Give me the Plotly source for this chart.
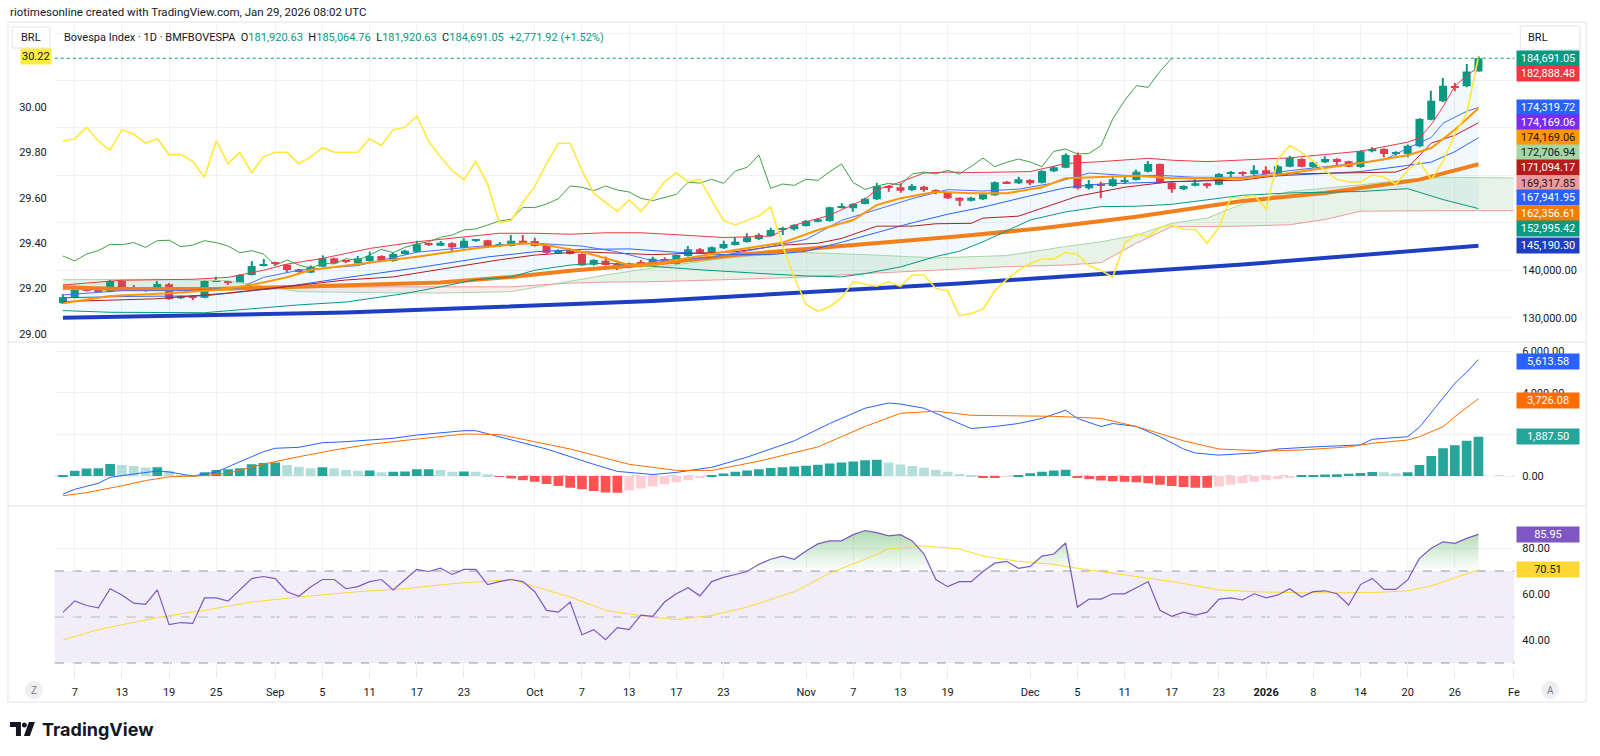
import pandas as pd
import plotly.graph_objects as go

W, H = 1600, 756

# ---------------- data ----------------
holidays = ["2025-11-20", "2025-12-24", "2025-12-25", "2025-12-31", "2026-01-01"]
dates = [d for d in pd.bdate_range("2025-08-06", "2026-01-28") if d.strftime("%Y-%m-%d") not in holidays]
future = list(pd.bdate_range("2026-01-29", "2026-02-02"))

open_ = [133030,134220,136330,135840,135490,137730,136330,136190,135840,137030,
134080,134500,134220,137700,137730,137380,139000,140900,141600,141180,
140200,139490,140760,142510,141950,141460,141950,143000,141950,143430,
143920,145500,145180,145680,144760,146240,146310,145200,145100,146240,
146170,145320,143710,144270,143430,141180,142020,141460,140550,141450,
141320,142230,141320,143000,144410,143850,144620,145320,145960,146590,
147220,148600,148630,149330,150240,150380,153150,153050,153970,154950,
157690,157480,156920,157620,156920,156430,155300,154670,154950,155800,
158670,158320,159030,158460,160850,161630,164300,157270,158040,157760,
158800,159030,160780,162400,158460,157060,157830,158320,158040,160360,
160710,160290,161060,160290,161840,163450,161770,162750,163450,162960,
161770,165070,165560,164550,164500,166120,171740,175610,178700,178770,
181920.63]
high = [134990,136750,136600,136000,138090,137900,136890,136330,137730,137300,
134700,134710,137940,138650,137800,139200,141950,142370,141810,141300,
140300,141000,143150,142650,142100,143000,143920,143150,143700,144300,
146240,145820,146170,145900,146730,146520,146450,145960,147430,147430,
146870,145460,144400,144620,143600,142300,142870,141600,141600,142160,
142860,142720,143300,145110,144700,145000,146240,146940,147780,147780,
148980,149190,149700,150600,151000,153400,154100,154100,155300,158460,
157900,158320,158180,157800,157100,156500,155400,155500,156200,158700,
158800,159730,159200,161100,162000,164650,164800,159030,158670,159700,
159870,161200,163030,162500,158600,157900,159170,158450,160500,160900,
160850,162120,161900,162200,164150,163600,162900,164010,163600,163100,
165300,165910,165700,165070,166500,172100,177860,180530,179470,183480,
185064.76]
low = [132900,134080,135500,135350,135350,136200,135630,135490,135700,133800,
133950,133730,134100,137600,136890,137300,138900,140800,140900,139490,
139500,139400,140700,141300,141500,141300,141800,141800,141800,143300,
143800,145110,145100,144060,144600,146100,144800,144970,145000,145670,
145000,143500,143570,143300,140900,141000,141000,140050,140400,140600,
140970,141460,141100,142900,143600,143700,144500,145200,145800,146400,
147100,147430,148400,149200,150100,150200,153000,152350,153900,154800,
156570,156350,156700,156570,156000,155000,153550,154500,154800,155700,
158250,158200,157970,158300,160700,161500,157000,157000,155160,157600,
158180,158900,160600,158300,156350,156900,157700,157270,157900,159450,
159800,160150,160150,160100,161700,161700,161600,162600,162120,161700,
161600,164900,163800,164150,163800,165950,171600,175400,177720,178600,
181920.63]
close = [134290,136190,135630,135490,137730,136330,136050,136050,137100,133940,
134570,134350,137730,137800,137450,139000,140900,141250,141320,140050,
139630,140760,142510,141460,141800,142510,143000,141950,143430,144130,
145460,145400,145820,144830,146240,146330,144970,145300,146240,145820,
145100,143710,144130,143430,141040,142160,141110,140400,141460,141350,
142440,142090,143220,144410,143710,144830,145530,146020,146940,147430,
148490,148700,149540,150380,150740,153260,153200,153970,155090,157760,
157500,156780,157760,156920,156500,155160,154670,155300,156000,158530,
158390,159170,158320,160920,161700,164300,157270,158180,157900,159170,
158950,160780,162400,158460,157060,157760,158320,157970,160290,160710,
160290,161060,160290,161900,163660,161840,162750,163450,162820,161840,
165070,165560,164500,164650,166260,171880,175750,178910,178560,181919.13,
184691.05]

# Bollinger bands
bb_up_x = [0,5,11,14,17,19,22,24,26,30,34,37,40,43,46,49,52,56,60,62,65,68,69,71,73,75,77,82,85,88,92,94,97,100,104,110,114,115,116,117,118,119,120]
bb_up = [136900,137900,138100,138500,140000,141300,142500,143600,144600,146000,147100,147800,147800,147600,147900,147900,147500,146900,147200,149500,151600,155000,157000,158600,160500,160700,160600,160800,162500,162900,163600,163200,162900,163300,163700,165100,167000,167900,170700,174500,178800,181000,182888.48]
bb_mid_x = [0,6,12,18,24,30,36,40,44,48,52,56,60,63,66,69,72,75,78,82,85,88,92,96,100,104,110,114,116,118,120]
bb_mid = [134200,134500,134600,136200,138450,140500,142800,143900,144400,144500,143800,143300,143300,144000,145900,148000,150000,151800,153300,155700,157400,158200,158500,158800,159500,160000,160800,162100,162800,165000,167941.95]
bb_lo_x = [0,4,12,17,20,24,29,32,35,38,40,43,46,49,54,60,63,66,68,71,74,76,78,82,85,88,91,94,97,100,104,110,114,117,120]
bb_lo = [131500,131140,131050,132000,132700,133300,135100,136500,138000,138600,140000,141100,141500,141000,140100,139200,138800,138600,139300,140700,142900,144000,146000,150600,152300,153400,153500,153900,154800,155800,156300,156600,157200,154900,152995.42]

# Ichimoku
tk_x = [0,5,10,15,17,20,25,30,35,40,44,47,50,55,60,63,66,69,72,75,78,81,84,87,90,93,96,100,104,108,112,115,116,117,118,119,120]
tenkan = [134800,135700,135700,136300,138500,140000,141000,143800,145000,145700,145100,143900,142000,142700,145000,146500,150500,152800,155100,157000,156700,157100,158400,160500,160000,160000,159600,159600,161000,162100,163300,166900,168000,171000,172300,173500,174319.72]
kj_x = [0,8,14,18,24,28,32,37,40,44,50,57,61,64,66,69,72,74,77,78,81,83,86,90,94,100,104,113,114,116,118,120]
kijun = [133400,134000,135200,136300,137950,138600,140200,142200,143200,143900,143300,143900,145300,145700,146700,149300,149300,149800,149900,151000,151400,153100,155600,157500,158700,159000,160300,160700,161600,166800,168450,171094.17]
cl_x = [0,8,14,17,20,26,32,38,41,43,46,50,56,62,68,74,80,85,88,91,94,97,100,104,107,110,114,117,123]
lead_a = [138000,138100,137800,136600,135500,135300,135200,135500,136800,137800,139000,140500,142500,143800,143300,142600,143100,145000,146000,147400,149900,151000,154000,156600,157300,158000,159100,159600,159450]
lead_b = [135900,135900,136000,136200,136300,136500,136500,136500,137000,137300,137500,137600,138000,138500,139300,140100,140750,141100,141600,145700,149200,149200,149300,149600,150700,152450,152560,152560,152560]
lead_a_last, lead_b_last = 172706.94, 169317.85
purple_last = 174169.06
chikou_shift = 26

# Moving averages
em_x = [0,4,9,13,16,19,21,24,30,35,39,41,44,46,48,50,52,57,61,64,67,69,71,74,77,80,83,85,88,91,94,97,100,103,107,111,114,116,118,120]
ema = [133040,134570,135140,135840,136890,138520,140060,141000,142860,144630,145680,145330,143910,142520,141110,141000,142160,144270,145810,148490,150600,153760,155170,156560,156220,156220,157490,159390,159720,159930,159390,159390,159390,160150,161560,162970,164230,165770,169630,174169.06]
s50_x = [0,5,13,19,24,32,38,43,50,57,66,76,83,91,100,107,115,120]
sma50 = [136400,136050,136050,136500,136700,137400,138600,139900,141300,143200,145100,147150,148850,151300,154600,156300,159100,162356.61]
s200_x = [0,24,50,76,100,120]
sma200 = [130000,131100,133500,137200,141200,145190.30]

# Overlay symbol (left scale)
yellow = [29.85,29.86,29.91,29.85,29.81,29.90,29.88,29.84,29.86,29.79,29.79,29.76,29.69,29.85,29.75,29.80,29.71,29.78,29.80,29.80,29.75,
29.78,29.82,29.80,29.80,29.80,29.86,29.83,29.90,29.91,29.96,29.85,29.78,
29.72,29.68,29.76,29.66,29.49,29.50,29.58,29.65,29.75,29.84,29.84,29.72,29.62,29.58,29.54,29.59,29.54,
29.60,29.67,29.71,29.67,29.68,29.59,29.50,29.48,29.50,29.52,29.56,29.39,29.25,29.13,29.10,29.12,29.16,29.23,29.22,29.21,29.23,29.21,29.26,29.26,29.20,29.19,
29.08,29.09,29.11,29.19,29.24,29.28,29.31,29.33,29.33,29.36,29.35,29.30,29.28,29.25,29.40,29.44,29.43,29.47,29.48,29.46,29.46,29.40,29.47,29.60,29.60,
29.61,29.55,29.77,29.83,29.80,29.76,29.72,29.68,29.67,29.67,29.70,29.69,29.66,29.72,29.76,29.68,29.76,29.88,29.97,30.22]

# MACD
macd_x = [0,1,3,4,6,8,9,11,13,14,16,17,18,20,22,24,26,28,30,32,34,35,37,41,45,47,50,52,55,58,62,65,68,70,71,73,75,77,79,81,83,85,86,88,89,91,93,95,96,98,101,103,106,108,110,111,114,115,117,118,119,120]
macd = [-870,-641,-352,-63,96,240,193,0,193,448,930,1171,1335,1383,1605,1653,1735,1817,1976,2087,2183,2183,1900,1301,564,222,72,173,419,910,1696,2530,3268,3517,3468,3268,2776,2286,2385,2530,2776,3171,2776,2385,2530,2385,1894,1301,1108,1007,1108,1301,1402,1450,1499,1768,1894,2347,3745,4467,5000,5613.58]
sig_x = [0,2,5,7,9,12,14,17,20,23,26,28,31,34,37,43,48,52,55,59,64,68,71,74,77,81,84,88,91,95,98,102,105,109,111,114,115,117,118,120]
signal = [-950,-800,-470,-220,-40,20,130,578,930,1253,1530,1653,1865,2024,2000,1301,564,270,270,713,1402,2385,3022,3123,2925,2877,2877,2776,2385,1696,1301,1205,1253,1402,1576,1735,1894,2376,2858,3726.08]
hist = [48,257,360,375,578,530,482,410,420,257,48,10,177,289,321,370,562,630,650,530,450,370,418,370,289,257,260,177,209,215,321,325,289,209,215,209,80,-48,
-120,-200,-280,-380,-480,-560,-640,-720,-790,-810,-700,-600,-500,-400,-300,-200,-100,
30,120,200,260,320,380,420,460,500,540,600,650,700,760,780,
650,560,480,400,300,200,100,20,-60,-90,-40,
40,130,200,260,300,-60,-150,-220,-250,-280,-300,-350,-420,-480,-530,-560,-570,-500,-420,-350,-280,-210,-140,-70,
20,50,70,90,110,140,190,178,130,178,530,964,1335,1479,1701,1887.50]

# RSI
rsi = [52.0,57.0,55.0,54.0,62.3,59.6,56.0,55.5,61.8,46.7,47.6,47.2,58.3,58.3,56.9,62.0,66.7,67.6,66.7,61.0,59.0,63.0,66.3,66.3,62.3,63.2,65.4,66.3,61.8,66.3,
70.7,69.8,71.2,68.5,70.7,70.7,64.1,65.4,66.3,65.4,61.0,52.9,52.1,56.5,42.3,44.5,40.1,45.4,44.5,50.8,
50.3,56.5,60.1,62.7,59.2,65.4,67.2,68.5,69.8,72.9,75.1,76.5,75.1,78.7,81.8,83.1,83.1,85.8,87.6,86.7,
85.3,85.8,83.1,77.4,66.3,63.2,65.4,65.4,69.8,73.4,74.2,71.2,72.0,76.5,77.4,82.2,54.3,57.8,57.8,60.1,
60.1,62.7,65.4,52.9,50.3,52.1,50.8,52.1,57.8,58.3,57.4,60.1,58.3,59.6,62.3,58.7,61.0,61.4,60.1,55.2,
64.1,66.8,62.0,62.0,66.1,75.5,79.9,82.7,82.0,84.2,85.95]
rma_x = [0,3,8,12,16,20,25,29,33,38,40,43,46,50,52,55,58,62,65,68,70,73,76,78,81,84,86,89,94,98,101,105,111,114,116,118,120]
rsi_ma = [40.0,44.5,49.8,52.9,56.5,58.7,61.0,62.3,64.5,66.3,63.2,58.7,52.9,49.8,48.9,50.7,54.3,61.0,69.0,75.1,79.6,80.9,79.6,76.5,74.2,72.9,71.2,69.0,65.4,61.8,61.0,60.5,60.6,61.4,63.5,67.0,70.51]

tick_dates = ["2025-08-07","2025-08-13","2025-08-19","2025-08-25","2025-09-01","2025-09-05","2025-09-11","2025-09-17","2025-09-23",
              "2025-10-01","2025-10-07","2025-10-13","2025-10-17","2025-10-23","2025-11-03","2025-11-07","2025-11-13","2025-11-19",
              "2025-12-01","2025-12-05","2025-12-11","2025-12-17","2025-12-23","2026-01-02","2026-01-08","2026-01-14","2026-01-20","2026-01-26"]
tick_labels = ["7","13","19","25","Sep","5","11","17","23","Oct","7","13","17","23","Nov","7","13","19",
               "Dec","5","11","17","23","<b>2026</b>","8","14","20","26"]

# ---------------- helpers / styles ----------------
n = len(dates)
xi = list(range(n))
dstr = [d.strftime("%Y-%m-%d") for d in dates]
tickv = [dstr.index(t) for t in tick_dates] + [n + len(future) - 1]
tickt = tick_labels + ["Fe"]

UP, DN = "#089981", "#F23645"
GRID = "#F0F2F6"
FONT = "Roboto, Liberation Sans, Arial, sans-serif"
XD = [55 / W, 1520 / W]
XR = [-0.69, 123.04]


def py(px):
    return 1 - px / H


def px_x(px):
    return px / W


fig = go.Figure()

# Ichimoku cloud polygons (green where A >= B, red otherwise)
sign = [a >= b for a, b in zip(lead_a, lead_b)]
start = 0
for k in range(1, len(cl_x) + 1):
    if k == len(cl_x) or sign[k] != sign[start]:
        end = min(k, len(cl_x) - 1)
        idx = list(range(start, end + 1))
        xs = [cl_x[j] for j in idx] + [cl_x[j] for j in reversed(idx)]
        ys = [lead_a[j] for j in idx] + [lead_b[j] for j in reversed(idx)]
        col = "rgba(67,160,71,0.13)" if sign[start] else "rgba(244,67,54,0.10)"
        fig.add_trace(go.Scatter(x=xs, y=ys, fill="toself", fillcolor=col, mode="lines",
                                 line=dict(width=0), hoverinfo="skip"))
        start = k

# Bollinger fill
fig.add_trace(go.Scatter(x=bb_lo_x, y=bb_lo, mode="lines", line=dict(width=0), hoverinfo="skip"))
fig.add_trace(go.Scatter(x=bb_up_x, y=bb_up, mode="lines", line=dict(width=0), fill="tonexty",
                         fillcolor="rgba(33,150,243,0.06)", hoverinfo="skip"))


def line(x, y, color, width=1, **kw):
    fig.add_trace(go.Scatter(x=x, y=y, mode="lines", line=dict(color=color, width=width), hoverinfo="skip", **kw))


line(cl_x, lead_a, "#A5D6A7")
line(cl_x, lead_b, "#EF9A9A")
line(s200_x, sma200, "#1E3FC2", 4)
line(s50_x, sma50, "#F07F1C", 4)
line(bb_lo_x, bb_lo, "#089981", 1)
line(bb_mid_x, bb_mid, "#2962FF", 1)
line(bb_up_x, bb_up, "#F23645", 1)
line(kj_x, kijun, "#B71C1C", 1)
line(tk_x, tenkan, "#4C6FFF", 1)
line(xi[:n - chikou_shift], close[chikou_shift:], "#43A047", 1)
line(em_x, ema, "#FF9800", 2)

# candles: wicks and bodies as bars on the price scale
ccol = [UP if c >= o else DN for o, c in zip(open_, close)]
fig.add_trace(go.Bar(x=xi, y=[h - l for h, l in zip(high, low)], base=low, width=0.1,
                     marker=dict(color=ccol, line=dict(width=0)), hoverinfo="skip"))
fig.add_trace(go.Bar(x=xi, y=[max(abs(c - o), 220) for o, c in zip(open_, close)],
                     base=[min(o, c) for o, c in zip(open_, close)], width=0.68,
                     marker=dict(color=ccol, line=dict(width=0)), hoverinfo="skip"))

line(xi, yellow, "#FFE83B", 1.6, yaxis="y2")

# MACD pane
hcol = []
for k, v in enumerate(hist):
    prev = hist[k - 1] if k > 0 else v
    if v >= 0:
        hcol.append("#26A69A" if v >= prev else "#B2DFDB")
    else:
        hcol.append("#FF5252" if v < prev else "#FFCDD2")
fig.add_trace(go.Bar(x=xi, y=hist, marker=dict(color=hcol, line=dict(width=0)), width=0.82,
                     xaxis="x2", yaxis="y3", hoverinfo="skip"))
line(macd_x, macd, "#2962FF", 1, xaxis="x2", yaxis="y3")
line(sig_x, signal, "#FF6D00", 1, xaxis="x2", yaxis="y3")

# RSI pane
fig.add_trace(go.Scatter(x=xi, y=[70] * n, mode="lines", line=dict(width=0), xaxis="x3", yaxis="y4", hoverinfo="skip"))
fig.add_trace(go.Scatter(x=xi, y=[max(v, 70) for v in rsi], mode="lines", line=dict(width=0), fill="tonexty",
                         fillgradient=dict(type="vertical", colorscale=[[0, "rgba(76,175,80,0.0)"], [1, "rgba(76,175,80,0.45)"]]),
                         xaxis="x3", yaxis="y4", hoverinfo="skip"))
line(rma_x, rsi_ma, "#FDD835", 1, xaxis="x3", yaxis="y4")
line(xi, rsi, "#7E57C2", 1.2, xaxis="x3", yaxis="y4")

# ---------------- layout ----------------
axfont = dict(family=FONT, size=11, color="#131722")
price_ticks = [130000, 140000, 150000, 160000, 170000, 180000, 190000]
price_text = ["130,000.00", "140,000.00", "", "", "", "", ""]

fig.update_layout(
    width=W, height=H, margin=dict(l=0, r=0, t=0, b=0),
    paper_bgcolor="white", plot_bgcolor="white", showlegend=False, barmode="overlay",
    font=dict(family=FONT, size=11, color="#131722"),
    xaxis=dict(domain=XD, anchor="y", range=XR, tickvals=tickv, showticklabels=False, showgrid=True,
               gridcolor=GRID, zeroline=False, fixedrange=True),
    xaxis2=dict(domain=XD, anchor="y3", matches="x", range=XR, tickvals=tickv, showticklabels=False,
                showgrid=True, gridcolor=GRID, zeroline=False),
    xaxis3=dict(domain=XD, anchor="y4", matches="x", range=XR, tickvals=tickv, ticktext=tickt, showgrid=True,
                gridcolor=GRID, zeroline=False, ticks="outside", ticklen=9, tickcolor="#E6E8EE",
                ticklabelstandoff=5, tickfont=axfont),
    yaxis=dict(domain=[py(341), py(22)], anchor="x", range=[125088, 192333], side="right",
               tickvals=price_ticks, ticktext=price_text, showgrid=True, gridcolor=GRID, zeroline=False,
               ticklabelstandoff=7, tickfont=axfont),
    yaxis2=dict(overlaying="y", anchor="x", side="left", range=[28.969, 30.374],
                tickvals=[29.0, 29.2, 29.4, 29.6, 29.8, 30.0], tickformat=".2f", showgrid=False,
                zeroline=False, ticklabelstandoff=7, tickfont=axfont),
    yaxis3=dict(domain=[py(505), py(343)], anchor="x2", side="right", range=[-1397, 6409],
                tickvals=[0, 2000, 4000, 6000], ticktext=["0.00", "", "4,000.00", "6,000.00"], showgrid=True,
                gridcolor=GRID, zeroline=False, ticklabelstandoff=7, tickfont=axfont),
    yaxis4=dict(domain=[py(668), py(507)], anchor="x3", side="right", range=[27.83, 97.83],
                tickvals=[40, 60, 80], tickformat=".2f", showgrid=True, gridcolor=GRID,
                zeroline=False, ticklabelstandoff=7, tickfont=axfont),
)

shapes = []
# frame and pane separators
shapes.append(dict(type="rect", xref="paper", yref="paper", x0=px_x(8), x1=px_x(1592), y0=py(702), y1=py(22),
                   line=dict(color="#E0E3EB", width=1), fillcolor="rgba(0,0,0,0)", layer="above"))
for yy in (342, 506):
    shapes.append(dict(type="line", xref="paper", yref="paper", x0=px_x(8), x1=px_x(1592), y0=py(yy), y1=py(yy),
                       line=dict(color="#E0E3EB", width=1)))
# RSI band
shapes.append(dict(type="rect", xref="x3 domain", yref="y4", x0=0, x1=1, y0=30, y1=70,
                   fillcolor="rgba(126,87,194,0.10)", line=dict(width=0), layer="below"))
for lvl in (70, 50, 30):
    shapes.append(dict(type="line", xref="x3 domain", yref="y4", x0=0, x1=1, y0=lvl, y1=lvl,
                       line=dict(color="#9598A1" if lvl != 50 else "#B2B5BE", width=1, dash="dash"), layer="below"))
# MACD zero line
shapes.append(dict(type="line", xref="x2 domain", yref="y3", x0=0, x1=1, y0=0, y1=0,
                   line=dict(color="#B2B5BE", width=1, dash="dash"), layer="below"))
# last price dotted line
shapes.append(dict(type="line", xref="x domain", yref="y", x0=0, x1=1, y0=close[-1], y1=close[-1],
                   line=dict(color=UP, width=1, dash="dot")))
# BRL boxes
for x0, x1, y0, y1 in ((12, 50, 27, 48), (1526, 1586, 26, 50)):
    shapes.append(dict(type="rect", xref="paper", yref="paper", x0=px_x(x0), x1=px_x(x1), y0=py(y1), y1=py(y0),
                       line=dict(color="#E0E3EB", width=1), fillcolor="white"))
# Z / A buttons
for cx in (34, 1556):
    shapes.append(dict(type="circle", xref="paper", yref="paper", x0=px_x(cx - 9), x1=px_x(cx + 9),
                       y0=py(699), y1=py(681), line=dict(width=0), fillcolor="#EDEFF3"))


# TradingView logo glyph
def ppath(pts):
    return "M " + " L ".join(f"{px_x(a)},{py(b)}" for a, b in pts) + " Z"


shapes.append(dict(type="path", xref="paper", yref="paper",
                   path=ppath([(10, 722), (21, 722), (21, 736), (16, 736), (16, 727), (10, 727)]),
                   fillcolor="#131722", line=dict(width=0)))
shapes.append(dict(type="circle", xref="paper", yref="paper", x0=px_x(22), x1=px_x(27), y0=py(727.5), y1=py(722.5),
                   fillcolor="#131722", line=dict(width=0)))
shapes.append(dict(type="path", xref="paper", yref="paper",
                   path=ppath([(29, 722), (35, 722), (30, 736), (24, 736)]),
                   fillcolor="#131722", line=dict(width=0)))
fig.update_layout(shapes=shapes)

ann = []


def tag(val, yref, bg, fg="white", shift=0):
    ann.append(dict(x=px_x(1522), xref="paper", y=val, yref=yref, xanchor="left", yanchor="middle",
                    text=f"{val:,.2f}", showarrow=False, bgcolor=bg, borderpad=1, width=60, align="center",
                    yshift=shift, font=dict(family=FONT, size=11, color=fg)))


tag(close[-1], "y", UP, shift=0)
tag(bb_up[-1], "y", "#F23645", shift=-6.5)
tag(tenkan[-1], "y", "#2962FF", shift=0)
tag(purple_last, "y", "#7B2CF2", shift=-14.5)
tag(ema[-1], "y", "#FF9800", fg="#131722", shift=-29.5)
tag(lead_a_last, "y", "#A5D6A7", fg="#131722", shift=-37.5)
tag(kijun[-1], "y", "#B71C1C", shift=-45)
tag(lead_b_last, "y", "#EF9A9A", fg="#131722", shift=-52)
tag(bb_mid[-1], "y", "#2962FF", shift=-60)
tag(sma50[-1], "y", "#F57C00", shift=-49)
tag(bb_lo[-1], "y", "#089981", shift=-20)
tag(sma200[-1], "y", "#1E3FC2", shift=0)
tag(macd[-1], "y3", "#2962FF", shift=-2)
tag(signal[-1], "y3", "#FF6D00", shift=-2)
tag(hist[-1], "y3", "#26A69A", shift=0)
tag(rsi[-1], "y4", "#7E57C2", shift=0)
tag(rsi_ma[-1], "y4", "#FDD835", fg="#131722", shift=0)

ann.append(dict(x=px_x(52), xref="paper", y=yellow[-1], yref="y2", xanchor="right", yanchor="middle",
                text=f"{yellow[-1]:.2f}", showarrow=False, bgcolor="#FFEB3B", borderpad=1,
                font=dict(family=FONT, size=11, color="#131722")))

chg = close[-1] - close[-2]
pct = chg / close[-2] * 100
G = "#089981"
S = "\u00a0\u00a0"
hdr = (f"Bovespa Index · 1D · BMFBOVESPA{S}O<span style='color:{G}'>{open_[-1]:,.2f}</span>{S}"
       f"H<span style='color:{G}'>{high[-1]:,.2f}</span>{S}L<span style='color:{G}'>{low[-1]:,.2f}</span>{S}"
       f"C<span style='color:{G}'>{close[-1]:,.2f}</span>{S}<span style='color:{G}'>{chg:+,.2f} ({pct:+.2f}%)</span>")


def txt(x, y, text, size=11, color="#131722", xanchor="left", family=FONT):
    ann.append(dict(x=px_x(x), y=py(y), xref="paper", yref="paper", xanchor=xanchor, yanchor="middle",
                    text=text, showarrow=False, font=dict(family=family, size=size, color=color)))


txt(62, 37, hdr)
txt(8, 12, "riotimesonline created with TradingView.com, Jan 29, 2026 08:02 UTC", size=11.5)
txt(31, 38, "BRL", xanchor="center")
txt(1544, 38, "BRL", xanchor="center")
txt(34, 690, "Z", size=10, color="#787B86", xanchor="center")
txt(1556, 690, "A", size=10, color="#787B86", xanchor="center")
txt(40, 729, "<b>TradingView</b>", size=18, family="Inter, Roboto, sans-serif")
fig.update_layout(annotations=ann)

fig.write_html("out.html")
